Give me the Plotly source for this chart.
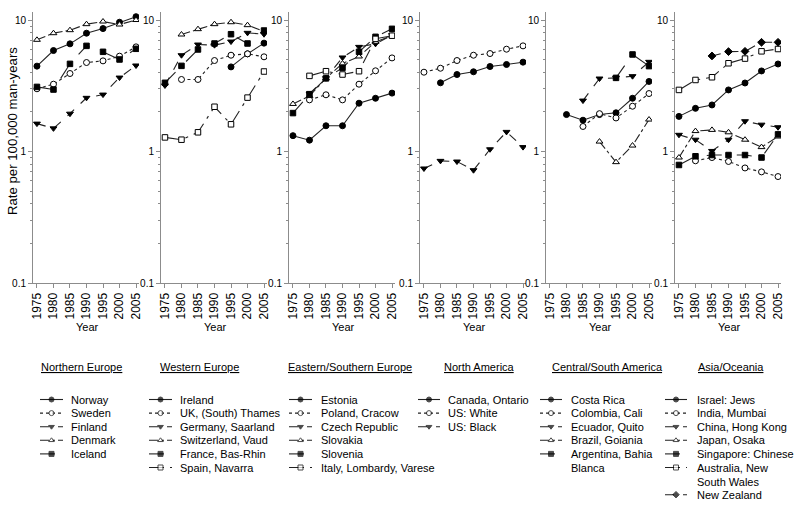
import plotly.graph_objects as go

years = [1975, 1980, 1985, 1990, 1995, 2000, 2005]
year_ticks = [1975, 1980, 1985, 1990, 1995, 2000, 2005]
y_tick_vals = [0.1, 1, 10]
y_tick_text = ["0.1", "1", "10"]

# Northern Europe
norway = [4.46, 5.86, 6.59, 7.94, 8.61, 9.62, 10.6]
sweden = [3.0, 3.25, 3.92, 4.75, 4.89, 5.31, 6.25]
finland = [1.63, 1.50, 1.94, 2.56, 2.71, 3.65, 4.51]
denmark = [7.07, 7.94, 8.37, 9.30, 9.74, 9.24, 10.0]
iceland = [3.1, 2.96, 4.64, 6.36, 5.73, 5.01, 6.04]

# Western Europe
ireland = [None, None, None, None, 4.40, 5.53, 6.67]
uk_thames = [None, 3.53, 3.53, 4.92, 5.40, 5.53, 5.25]
germany = [3.18, 5.40, 6.51, 6.44, 6.86, 7.99, 7.80]
switzerland = [None, 7.76, 8.52, 9.30, 9.62, 9.14, 8.18]
france = [3.33, 4.48, 5.97, 6.63, 7.80, 6.63, 8.32]
spain = [1.28, 1.23, 1.40, 2.19, 1.61, 2.57, 4.06]

# Eastern/Southern Europe
estonia = [1.32, 1.22, 1.57, 1.57, 2.33, 2.54, 2.78]
poland = [None, 2.47, 2.70, 2.47, 3.25, 4.11, 5.15]
czech = [None, 2.76, 3.61, 5.19, 6.25, 6.59, 7.67]
slovakia = [2.30, 2.64, 3.61, 4.67, 5.28, 6.82, 7.6]
slovenia = [1.96, 2.73, 3.60, 4.33, 5.73, 7.45, 8.57]
italy = [None, 3.76, 4.08, 3.85, 4.08, 7.19, 7.6]

# North America
canada = [None, 3.33, 3.85, 4.04, 4.43, 4.59, 4.78]
us_white = [4.01, 4.30, 4.92, 5.40, 5.56, 6.00, 6.36]
us_black = [0.743, 0.849, 0.839, 0.721, 1.04, 1.41, 1.08]

# Central/South America
costa_rica = [None, 1.91, 1.73, 1.91, 1.97, 2.54, 3.41]
colombia = [None, None, 1.55, 1.94, 1.80, 2.21, 2.76]
ecuador = [None, None, 2.44, 3.59, 3.63, 3.74, 4.81]
brazil = [None, None, None, 1.19, 0.83, 1.11, 1.75]
argentina = [None, None, None, None, 3.63, 5.47, 4.46]

# Asia/Oceania
israel = [1.85, 2.13, 2.26, 2.94, 3.32, 4.10, 4.63]
india = [None, 0.85, 0.90, 0.84, 0.75, 0.70, 0.645]
china_hk = [1.34, 1.23, 1.01, 1.23, 1.70, 1.60, 1.53]
japan = [0.90, 1.43, 1.46, 1.40, 1.23, 1.08, 1.30]
singapore = [0.79, 0.92, 0.94, 0.94, 0.94, 0.90, 1.35]
australia = [2.94, 3.50, 3.67, 4.69, 5.09, 5.78, 6.02]
new_zealand = [None, None, 5.33, 5.75, 5.78, 6.77, 6.77]

regions = [
    ("Northern Europe", [("Norway", norway), ("Sweden", sweden), ("Finland", finland),
                         ("Denmark", denmark), ("Iceland", iceland)]),
    ("Western Europe", [("Ireland", ireland), ("UK, (South) Thames", uk_thames),
                        ("Germany, Saarland", germany), ("Switzerland, Vaud", switzerland),
                        ("France, Bas-Rhin", france), ("Spain, Navarra", spain)]),
    ("Eastern/Southern Europe", [("Estonia", estonia), ("Poland, Cracow", poland),
                                 ("Czech Republic", czech), ("Slovakia", slovakia),
                                 ("Slovenia", slovenia), ("Italy, Lombardy, Varese", italy)]),
    ("North America", [("Canada, Ontario", canada), ("US: White", us_white),
                       ("US: Black", us_black)]),
    ("Central/South America", [("Costa Rica", costa_rica), ("Colombia, Cali", colombia),
                               ("Ecuador, Quito", ecuador), ("Brazil, Goiania", brazil),
                               ("Argentina, Bahia<br>Blanca", argentina)]),
    ("Asia/Oceania", [("Israel: Jews", israel), ("India, Mumbai", india),
                      ("China, Hong Kong", china_hk), ("Japan, Osaka", japan),
                      ("Singapore: Chinese", singapore),
                      ("Australia, New<br>South Wales", australia),
                      ("New Zealand", new_zealand)]),
]

# style by position within a region: (dash, symbol, filled)
styles = [
    ("solid", "circle", True),
    ("dot", "circle", False),
    ("dash", "triangle-down", True),
    ("dashdot", "triangle-up", False),
    ("longdash", "square", True),
    ("longdashdot", "square", False),
    ("dash", "diamond", True),
]

W, H = 800, 509
panel_left = [33, 161, 289, 420, 546, 675]
panel_w = 106
y_top_px, y_bot_px = 12, 283

LINE_COL = "#222222"
AXIS_COL = "#8c8c8c"
FONT = "Liberation Sans, Arial, sans-serif"

fig = go.Figure()
layout = dict(
    width=W, height=H,
    margin=dict(l=0, r=0, t=0, b=0, pad=0),
    paper_bgcolor="white", plot_bgcolor="rgba(0,0,0,0)",
    showlegend=False,
    font=dict(family=FONT, color="black"),
)

minor_vals = [round(v * m, 3) for m in (0.1, 1) for v in range(2, 10)]
annotations = []

for i, (region, series) in enumerate(regions):
    ax = "" if i == 0 else str(i + 1)
    x0 = panel_left[i] / W
    x1 = (panel_left[i] + panel_w) / W
    layout["xaxis" + ax] = dict(
        domain=[x0, x1], range=[1973.8, 2005.9], anchor="y" + ax,
        tickvals=year_ticks, tickangle=-90, ticks="outside", ticklen=4,
        tickcolor=AXIS_COL, showline=True, linecolor=AXIS_COL, linewidth=1,
        showgrid=False, zeroline=False, tickfont=dict(size=12, family=FONT),
        automargin=False,
    )
    layout["yaxis" + ax] = dict(
        domain=[1 - y_bot_px / H, 1 - y_top_px / H], type="log",
        range=[-1, 1.061], anchor="x" + ax,
        tickvals=y_tick_vals, ticktext=y_tick_text, ticks="outside", ticklen=4,
        tickcolor=AXIS_COL, showline=True, linecolor=AXIS_COL, linewidth=1,
        showgrid=False, zeroline=False, tickfont=dict(size=10, family=FONT),
        minor=dict(tickvals=minor_vals, ticks="outside", ticklen=2, tickcolor=AXIS_COL),
        automargin=False,
    )
    for j, (name, vals) in enumerate(series):
        dash, sym, filled = styles[j]
        fig.add_trace(go.Scatter(
            x=years, y=vals, mode="lines+markers", name=name.replace("<br>", " "),
            xaxis="x" + ax, yaxis="y" + ax, connectgaps=False,
            line=dict(color=LINE_COL, width=1.1, dash=dash),
            marker=dict(symbol=sym, size=6 if sym != "square" else 5.5,
                        color="black" if filled else "white",
                        line=dict(color="black", width=1)),
        ))
    annotations.append(dict(
        x=(panel_left[i] + 54) / W, y=1 - 327 / H, xref="paper", yref="paper",
        text="Year", showarrow=False, font=dict(size=11, family=FONT),
        xanchor="center", yanchor="middle"))

annotations.append(dict(
    x=13 / W, y=1 - 131 / H, xref="paper", yref="paper",
    text="Rate per 100,000 man-years", textangle=-90, showarrow=False,
    font=dict(size=13.2, family=FONT), xanchor="center", yanchor="middle"))

# legend block (drawn on a hidden pixel-space axis in the lower band)
leg_cols = [
    # title_x, sample_x0, sample_x1, text_x
    (39, 40, 63, 69),
    (158, 149, 172, 178),
    (286, 289, 312, 319),
    (442, 418, 440, 446),
    (550, 540, 562, 569),
    (696, 665, 687, 695),
]
title_y = 367
row0_y = 399.5
row_h = 13.6
band_top = 345
lax = "7"
layout["xaxis" + lax] = dict(domain=[0, 1], range=[0, W], visible=False, fixedrange=True)
layout["yaxis" + lax] = dict(domain=[0, 1 - band_top / H], range=[H, band_top], visible=False,
                             fixedrange=True, anchor="x" + lax)

for i, (region, series) in enumerate(regions):
    tx, sx0, sx1, textx = leg_cols[i]
    annotations.append(dict(
        x=tx / W, y=1 - title_y / H, xref="paper", yref="paper", text="<u>" + region + "</u>",
        showarrow=False, xanchor="left", yanchor="middle", font=dict(size=11, family=FONT)))
    row = 0
    for j, (name, vals) in enumerate(series):
        dash, sym, filled = styles[j]
        yy = row0_y + row * row_h
        fig.add_trace(go.Scatter(
            x=[sx0, (sx0 + sx1) / 2, sx1], y=[yy, yy, yy], mode="lines+markers",
            xaxis="x" + lax, yaxis="y" + lax, hoverinfo="skip", cliponaxis=False,
            line=dict(color=LINE_COL, width=1.1, dash=dash),
            marker=dict(symbol=sym, size=[0, 5, 0],
                        color="black" if filled else "white",
                        line=dict(color="black", width=[0, 1, 0])),
        ))
        nlines = name.count("<br>") + 1
        annotations.append(dict(
            x=textx / W, y=1 - (yy - 8) / H, xref="paper", yref="paper", text=name,
            showarrow=False, xanchor="left", yanchor="top", align="left",
            font=dict(size=11, family=FONT)))
        row += nlines

layout["annotations"] = annotations
fig.update_layout(**layout)
fig.write_html("out.html", config={"displayModeBar": False},
               post_script="document.body.style.margin='0';")
